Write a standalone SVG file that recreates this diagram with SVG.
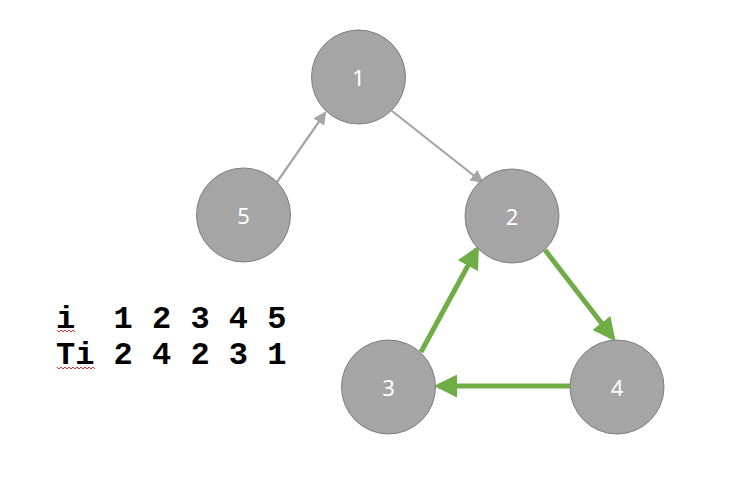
<svg xmlns="http://www.w3.org/2000/svg" width="750" height="489" viewBox="0 0 750 489">
<style>
.node circle{fill:#a5a5a5;stroke:#7f7f7f;stroke-width:1}
.node text{fill:#fff;font-family:"Noto Sans","Liberation Sans",sans-serif;font-size:22px;font-weight:normal;text-anchor:middle;dominant-baseline:central}
.gray{stroke:#a5a5a5;stroke-width:2.2;fill:none;marker-end:url(#ag)}
.green{stroke:#70ad47;stroke-width:5;fill:none;marker-end:url(#agr)}
.tbl{font-family:"Liberation Mono","Courier New",monospace;font-weight:bold;font-size:32px;fill:#000;white-space:pre}
.sq{stroke:#e03030;stroke-width:1;fill:none}
</style>
<defs>
<marker id="ag" markerWidth="6" markerHeight="6" refX="5" refY="3" orient="auto" markerUnits="strokeWidth">
<path d="M0,0 L6,3 L0,6 z" fill="#a5a5a5"/>
</marker>
<marker id="agr" markerWidth="4.6" markerHeight="4.6" refX="3.8" refY="2.3" orient="auto" markerUnits="strokeWidth">
<path d="M0,0 L4.6,2.3 L0,4.6 z" fill="#70ad47"/>
</marker>
</defs>
<g id="connectors">
<line class="gray" x1="277" y1="182" x2="325" y2="113"/>
<line class="gray" x1="392" y1="111" x2="482" y2="182"/>
<line class="green" x1="545" y1="250" x2="613" y2="338"/>
<line class="green" x1="571" y1="386" x2="438" y2="386"/>
<line class="green" x1="421" y1="352" x2="477" y2="249"/>
</g>
<g id="node1" class="node"><circle cx="358.5" cy="77" r="47"/><text x="358.5" y="77">1</text></g>
<g id="node5" class="node"><circle cx="243.5" cy="215" r="47"/><text x="243.5" y="215">5</text></g>
<g id="node2" class="node"><circle cx="512" cy="216" r="47"/><text x="512" y="216">2</text></g>
<g id="node3" class="node"><circle cx="388.5" cy="387" r="47"/><text x="388.5" y="387">3</text></g>
<g id="node4" class="node"><circle cx="617" cy="387" r="47"/><text x="617" y="387">4</text></g>
<g id="table">
<text class="tbl" x="56" y="328">i  1 2 3 4 5</text>
<text class="tbl" x="56" y="364">Ti 2 4 2 3 1</text>
<path class="sq" d="M57,330 l2,2 l2,-2 l2,2 l2,-2 l2,2 l2,-2 l2,2 l2,-2 l2,2"/>
<path class="sq" d="M57,367 l2,2 l2,-2 l2,2 l2,-2 l2,2 l2,-2 l2,2 l2,-2 l2,2 l2,-2 l2,2 l2,-2 l2,2 l2,-2 l2,2 l2,-2 l2,2 l2,-2 l2,2"/>
</g>
</svg>
